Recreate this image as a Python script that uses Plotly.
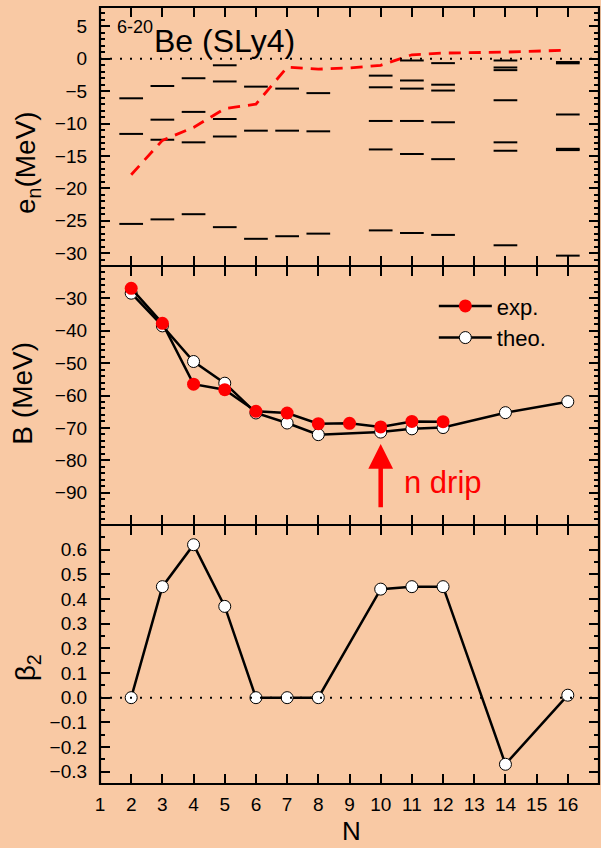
import plotly.graph_objects as go
from plotly.subplots import make_subplots

# ---------------- data ----------------
# single-particle neutron levels e_n (MeV) for each neutron number N
level_N = [2, 2, 2,
           3, 3, 3, 3,
           4, 4, 4, 4,
           5, 5, 5, 5, 5,
           6, 6, 6,
           7, 7, 7,
           8, 8, 8,
           10, 10, 10, 10, 10,
           11, 11, 11, 11, 11, 11,
           12, 12, 12, 12, 12, 12,
           14, 14, 14, 14, 14, 14, 14,
           16, 16, 16, 16, 16, 16]
level_e = [-6.1, -11.6, -25.5,
           -4.2, -9.4, -12.5, -24.8,
           -3.0, -8.2, -12.9, -24.0,
           -1.0, -3.5, -9.3, -12.0, -26.0,
           -4.3, -11.1, -27.8,
           -4.6, -11.1, -27.4,
           -5.3, -11.2, -27.0,
           -2.6, -4.4, -9.6, -14.0, -26.5,
           -0.26, -3.35, -4.6, -9.6, -14.7, -26.9,
           -0.67, -4.0, -4.9, -9.8, -15.5, -27.2,
           -0.26, -1.34, -1.75, -6.4, -12.9, -14.2, -28.8,
           -0.5, -0.7, -8.6, -13.9, -14.1, -30.4]

# Fermi level (red dashed)
fermi_N = [2, 3, 4, 5, 6, 7, 8, 9, 10, 11, 12, 14, 16]
fermi_e = [-17.9, -12.6, -10.6, -7.7, -7.0, -1.3, -1.6, -1.4, -1.0, 0.62, 0.88, 1.03, 1.34]

# binding energies
exp_N = [2, 3, 4, 5, 6, 7, 8, 9, 10, 11, 12]
exp_B = [-26.9, -37.7, -56.5, -58.2, -64.9, -65.4, -68.7, -68.6, -69.7, -68.0, -68.1]
theo_N = [2, 3, 4, 5, 6, 7, 8, 10, 11, 12, 14, 16]
theo_B = [-28.4, -38.5, -49.5, -56.2, -65.4, -68.5, -72.1, -71.3, -70.3, -69.9, -65.3, -61.9]

# quadrupole deformation
beta_N = [2, 3, 4, 5, 6, 7, 8, 10, 11, 12, 14, 16]
beta_2 = [0.0, 0.45, 0.62, 0.37, 0.0, 0.0, 0.0, 0.44, 0.45, 0.45, -0.27, 0.01]

x_ticks = list(range(1, 17))
y1_ticks = [-30, -25, -20, -15, -10, -5, 0, 5]
y2_ticks = [-90, -80, -70, -60, -50, -40, -30]
y3_ticks = [-0.3, -0.2, -0.1, 0.0, 0.1, 0.2, 0.3, 0.4, 0.5, 0.6]

# ---------------- figure ----------------
BG = "#F9C9A4"
FONT = "Liberation Sans, Arial, sans-serif"
HALF = 0.38  # half width of a level bar in N units

fig = make_subplots(rows=3, cols=1, shared_xaxes=True, vertical_spacing=0)

# levels as short horizontal bars
lx, ly = [], []
for n, e in zip(level_N, level_e):
    lx += [n - HALF, n + HALF, None]
    ly += [e, e, None]
fig.add_trace(go.Scatter(x=lx, y=ly, mode="lines", line=dict(color="black", width=2),
                         showlegend=False, hoverinfo="skip"), row=1, col=1)
fig.add_trace(go.Scatter(x=fermi_N, y=fermi_e, mode="lines",
                         line=dict(color="#FF0000", width=2.8, dash="12px,8px"),
                         showlegend=False), row=1, col=1)

# binding energies
fig.add_trace(go.Scatter(x=theo_N, y=theo_B, mode="lines+markers", name="theo.",
                         line=dict(color="black", width=2.5),
                         marker=dict(symbol="circle", size=12, color="white",
                                     line=dict(color="black", width=1)),
                         legendrank=2), row=2, col=1)
fig.add_trace(go.Scatter(x=exp_N, y=exp_B, mode="lines+markers", name="exp.",
                         line=dict(color="black", width=2.5),
                         marker=dict(symbol="circle", size=13, color="#FF0000",
                                     line=dict(color="#FF0000", width=0)),
                         legendrank=1), row=2, col=1)

# beta_2
fig.add_trace(go.Scatter(x=beta_N, y=beta_2, mode="lines+markers",
                         line=dict(color="black", width=2.5),
                         marker=dict(symbol="circle", size=12, color="white",
                                     line=dict(color="black", width=1)),
                         showlegend=False), row=3, col=1)

# dotted zero lines
for yref, xref in (("y", "x domain"), ("y3", "x3 domain")):
    fig.add_shape(type="line", xref=xref, yref=yref, x0=0, x1=1, y0=0, y1=0,
                  line=dict(color="black", width=2, dash="2px,8px"), layer="above")

# outer frame
fig.add_shape(type="rect", xref="paper", yref="paper", x0=0, x1=1, y0=0, y1=1,
              line=dict(color="black", width=2.2), layer="above")

axis_common = dict(showline=True, linecolor="black", linewidth=1.3, mirror="ticks",
                   ticks="inside", ticklen=10, tickwidth=2, tickcolor="black",
                   showgrid=False, zeroline=False,
                   tickfont=dict(family=FONT, size=19, color="black"))

for r in (1, 2, 3):
    fig.update_xaxes(range=[1, 17], tickmode="array", tickvals=x_ticks,
                     ticklabelstandoff=3, row=r, col=1, **axis_common)

fig.update_yaxes(range=[-32, 8], tickmode="array", tickvals=y1_ticks,
                 minor=dict(tickmode="linear", tick0=0, dtick=1, ticks="inside",
                            ticklen=5, tickwidth=1.5, tickcolor="black"),
                 ticklabelstandoff=8, row=1, col=1, **axis_common)
fig.update_yaxes(range=[-100, -20], tickmode="array", tickvals=y2_ticks,
                 minor=dict(tickmode="linear", tick0=0, dtick=2, ticks="inside",
                            ticklen=5, tickwidth=1.5, tickcolor="black"),
                 ticklabelstandoff=8, row=2, col=1, **axis_common)
fig.update_yaxes(range=[-0.35, 0.7], tickmode="array", tickvals=y3_ticks,
                 tickformat=".1f",
                 minor=dict(tickmode="linear", tick0=0, dtick=0.05, ticks="inside",
                            ticklen=5, tickwidth=1.5, tickcolor="black"),
                 ticklabelstandoff=8, row=3, col=1, **axis_common)

# annotations (text)
ann = []
def txt(text, x, y, size, color="black", angle=0, xanchor="center", yanchor="middle",
        xref="paper", yref="paper"):
    ann.append(dict(text=text, x=x, y=y, xref=xref, yref=yref, showarrow=False,
                    textangle=angle, xanchor=xanchor, yanchor=yanchor,
                    font=dict(family=FONT, size=size, color=color)))

txt("e<sub>n</sub>(MeV)", -0.145, 0.80, 28, angle=-90)
txt("B (MeV)", -0.156, 0.5026, 28, angle=-90)
txt("β<sub>2</sub>", -0.146, 0.149, 28, angle=-90)
txt("N", 0.505, -0.0605, 26)
txt("6-20", 0.030, 0.9743, 18, xanchor="left")
txt("Be (SLy4)", 0.1036, 0.956, 32, xanchor="left")
txt("n drip", 10.67, -86.8, 31, color="#FF0000", xanchor="left", xref="x2", yref="y2")

# arrow for n drip
ann.append(dict(x=10, y=-75, ax=10, ay=-95, xref="x2", yref="y2", axref="x2", ayref="y2",
                text="", showarrow=True, arrowhead=2, arrowsize=1.1, arrowwidth=4.5,
                arrowcolor="#FF0000"))

fig.update_layout(
    width=601, height=848,
    margin=dict(l=100, r=2, t=7, b=64),
    paper_bgcolor=BG, plot_bgcolor=BG,
    font=dict(family=FONT, color="black"),
    annotations=ann,
    showlegend=True,
    legend=dict(x=0.669, y=0.642, xanchor="left", yanchor="top",
                bgcolor="rgba(0,0,0,0)", font=dict(family=FONT, size=22, color="black"),
                itemwidth=53, tracegroupgap=0),
)

fig.write_html("out.html", config={"displayModeBar": False},
               post_script="document.body.style.margin='0';document.body.style.overflow='hidden';")
